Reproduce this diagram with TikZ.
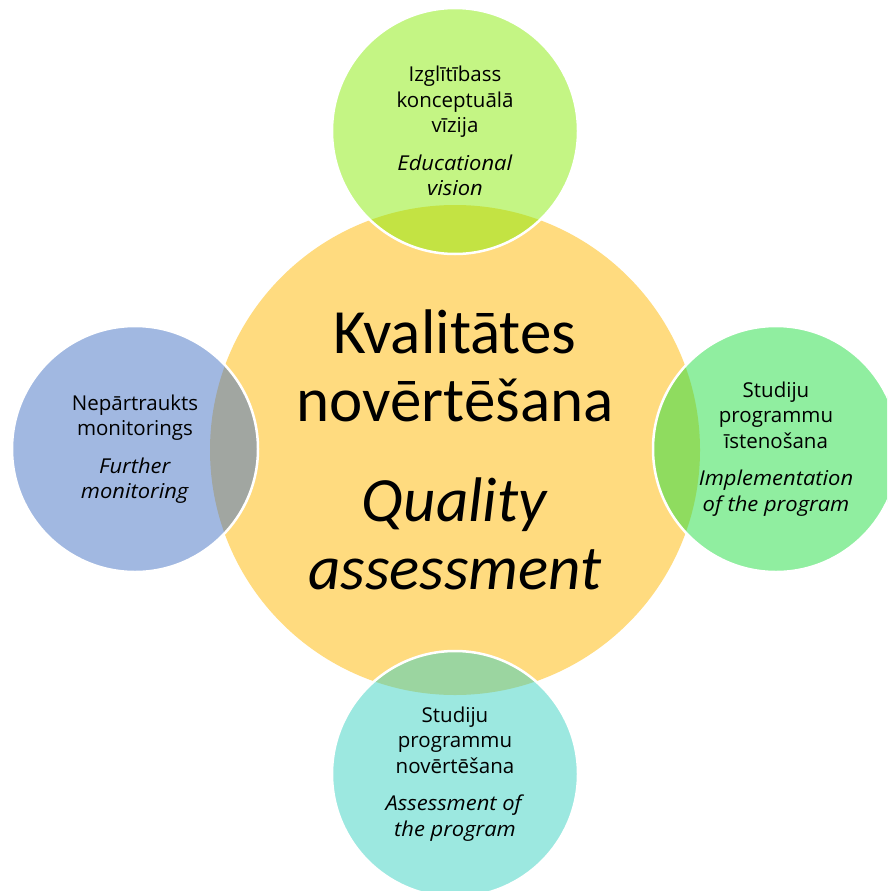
\documentclass[tikz,border=0pt]{standalone}
\usepackage{fontspec}
\setmainfont{Open Sans}[ItalicFeatures={FakeStretch=1.07}]
\newfontfamily\corefont{Carlito}
\definecolor{cyellow}{HTML}{FFDB7F}
\definecolor{ctop}{HTML}{89EB09}
\definecolor{cright}{HTML}{21DD41}
\definecolor{cbottom}{HTML}{39D1C1}
\definecolor{cleft}{HTML}{4472C4}
\tikzset{
  corecircle/.style={circle, fill=cyellow, minimum size=490pt, inner sep=0pt, align=center,
    font=\corefont\fontsize{63}{68}\selectfont},
  smallcircle/.style={circle, minimum size=246pt, inner sep=0pt, draw=white, line width=2.5pt,
    fill opacity=0.5, text opacity=1, align=center, font=\fontsize{20.5}{25.5}\selectfont}
}
\begin{document}
\begin{tikzpicture}[x=1pt,y=-1pt]
\useasboundingbox (0,0) rectangle (887,891);
\clip (0,0) rectangle (887,891);
\node[corecircle] (core) at (455,450) {Kvalitātes\\novērtēšana\\[32pt]\textit{Quality}\\\textit{assessment}};
\node[smallcircle, fill=ctop] (vision) at (455,131) {Izglītībass\\konceptuālā\\vīzija\\[12pt]\textit{Educational}\\\textit{vision}};
\node[smallcircle, fill=cright] (impl) at (776,449) {Studiju\\programmu\\īstenošana\\[12pt]\textit{Implementation}\\\textit{of the program}};
\node[smallcircle, fill=cbottom] (assess) at (455,774) {Studiju\\programmu\\novērtēšana\\[12pt]\textit{Assessment of}\\\textit{the program}};
\node[smallcircle, fill=cleft] (monitor) at (135,449) {Nepārtraukts\\monitorings\\[12pt]\textit{Further}\\\textit{monitoring}};
\end{tikzpicture}
\end{document}
